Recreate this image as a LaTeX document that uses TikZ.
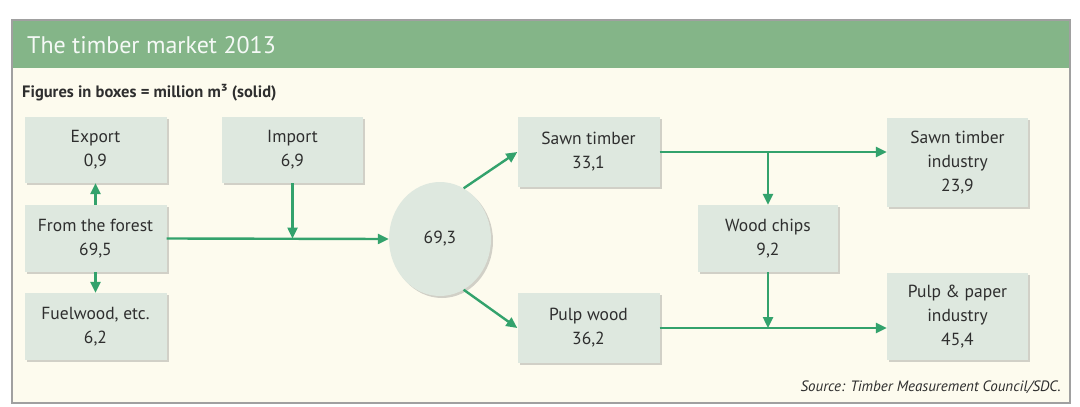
\documentclass[tikz,border=0pt]{standalone}
\usepackage{fontspec}
\setmainfont{PT Sans}
\usetikzlibrary{arrows.meta,shapes.geometric,shadows}
\definecolor{hdr}{HTML}{84B588}
\definecolor{cream}{HTML}{FDFBEE}
\definecolor{boxfill}{HTML}{DEE8DF}
\definecolor{arr}{HTML}{33A26C}
\definecolor{txt}{HTML}{2E2E2E}
\definecolor{frame}{HTML}{A0A0A0}
\tikzset{
  fbox/.style={rectangle, fill=boxfill, text=txt, font=\fontsize{17.5}{24}\selectfont,
    align=center, inner sep=0pt, minimum width=142pt,
    drop shadow={shadow xshift=2pt, shadow yshift=-2pt, opacity=0.35, fill=gray}},
  fell/.style={ellipse, fill=boxfill, text=txt, font=\fontsize{17.5}{24}\selectfont,
    inner sep=0pt, minimum width=102pt, minimum height=114pt,
    drop shadow={shadow xshift=2pt, shadow yshift=-2pt, opacity=0.35, fill=gray}},
  flow/.style={draw=arr, line width=2.4pt, -{Triangle[length=11pt,width=10pt]}}
}
\begin{document}
\begin{tikzpicture}[x=1pt,y=-1pt]
\useasboundingbox (0,0) rectangle (1080,407);
\fill[white] (0,0) rectangle (1080,407);
% frame
\fill[cream] (12,20) rectangle (1070,403);
\fill[hdr] (12,20) rectangle (1070,68);
\draw[frame, line width=1.5pt] (12,20) rectangle (1070,403);
\node[anchor=west, text=white!92!hdr, font=\fontsize{24}{28}\selectfont, inner sep=0pt] (title) at (27,45) {The timber market 2013};
\node[anchor=west, text=txt, font=\bfseries\fontsize{16.5}{19}\selectfont, inner sep=0pt] (sub) at (22,93) {Figures in boxes = million m³ (solid)};
\node[anchor=east, text=txt, font=\itshape\fontsize{15}{18}\selectfont, inner sep=0pt] (src) at (1061,387) {Source: Timber Measurement Council/SDC.};
% boxes
\node[fbox, minimum height=66pt] (exp) at (95.5,150) {Export\\0,9};
\node[fbox, minimum height=67pt] (forest) at (95.5,238.5) {From the forest\\69,5};
\node[fbox, minimum height=67pt] (fuel) at (95.5,326.5) {Fuelwood, etc.\\6,2};
\node[fbox, minimum height=66pt, minimum width=141pt] (imp) at (292.5,150) {Import\\6,9};
\node[fell] (ell) at (440,239) {69,3};
\node[fbox, minimum height=70pt] (sawn) at (588.5,152) {Sawn timber\\33,1};
\node[fbox, minimum height=70pt] (pulp) at (588.5,328) {Pulp wood\\36,2};
\node[fbox, minimum height=67pt, minimum width=140pt] (chips) at (768,238.5) {Wood chips\\9,2};
\node[fbox, minimum height=89pt, minimum width=141pt] (sind) at (957.5,162.5) {Sawn timber\\industry\\23,9};
\node[fbox, minimum height=87pt, minimum width=141pt] (pind) at (957.5,316.5) {Pulp \& paper\\industry\\45,4};
% connectors
\draw[flow] (forest.north) -- (exp.south);
\draw[flow] (forest.south) -- (fuel.north);
\draw[flow] (forest.east) -- (ell.west);
\coordinate (j1) at (imp.south |- forest.east);
\draw[flow] (imp.south) -- (j1);
\draw[flow] (ell.65) -- (sawn.west);
\draw[flow] (ell.-65) -- (pulp.west);
\coordinate (j2) at (chips.north |- sawn.east);
\coordinate (j3) at (chips.south |- pulp.east);
\draw[flow] (sawn.east) -- (sawn.east -| sind.west);
\draw[flow] (j2) -- (chips.north);
\draw[flow] (pulp.east) -- (pulp.east -| pind.west);
\draw[flow] (chips.south) -- (j3);
\end{tikzpicture}
\end{document}
